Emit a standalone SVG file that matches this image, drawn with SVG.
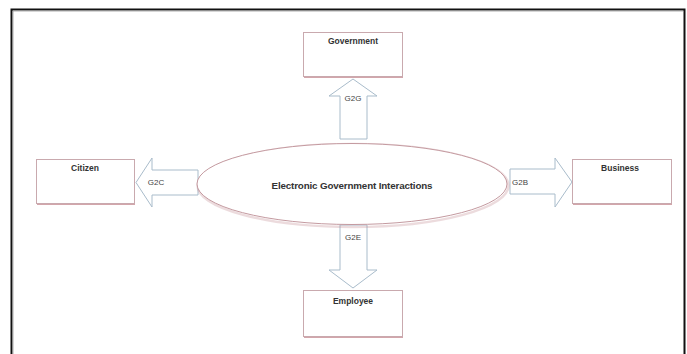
<svg xmlns="http://www.w3.org/2000/svg" width="687" height="354" viewBox="0 0 687 354">
<style>
.box{fill:#fff;stroke:#c9a9ae;stroke-width:1}
.shadow{fill:none;stroke:#c08088;stroke-width:2;opacity:0.7}
.arrow{fill:#fff;stroke:#a9bccb;stroke-width:1}
.lbl{font-family:"Liberation Sans",Arial,sans-serif;font-size:8.5px;font-weight:bold;fill:#333;text-anchor:middle}
.al{font-family:"Liberation Sans",Arial,sans-serif;font-size:8px;fill:#444;text-anchor:middle}
</style>
<rect x="0" y="0" width="687" height="354" fill="#fff"/>
<path d="M11.5 356 V9.5 H684.5 V356" fill="none" stroke="#111" stroke-width="2"/>
<path d="M13 356 V11 H683" fill="none" stroke="#999" stroke-width="0.8"/>
<g id="connectors">
<polygon class="arrow" points="340,139 340,96 329,96 353,79 377,96 367,96 367,139"/>
<polygon class="arrow" points="198,170 152,170 152,158 136,182.5 152,207 152,195 198,195"/>
<polygon class="arrow" points="510,169 555,169 555,158 572,182 555,207 555,194 510,194"/>
<polygon class="arrow" points="340,225 340,270 329,270 353,288 377,270 367,270 367,225"/>
<text class="al" x="353" y="101">G2G</text>
<text class="al" x="156" y="185">G2C</text>
<text class="al" x="520" y="185">G2B</text>
<text class="al" x="353" y="240">G2E</text>
</g>
<g id="center">
<ellipse cx="353" cy="185.5" rx="155.5" ry="41.5" fill="none" stroke="#c08890" stroke-width="2.5" opacity="0.3"/>
<ellipse cx="352" cy="184" rx="155" ry="40.5" fill="#fff" stroke="#c49aa0" stroke-width="1"/>
<text x="352" y="189" font-family="'Liberation Sans',Arial,sans-serif" font-size="9.8" fill="#333" text-anchor="middle" font-weight="bold" textLength="161">Electronic Government Interactions</text>
</g>
<g id="government">
<line class="shadow" x1="304" y1="77" x2="403" y2="77"/>
<rect class="box" x="303.5" y="32.5" width="99" height="44"/>
<text class="lbl" x="353" y="44">Government</text>
</g>
<g id="citizen">
<line class="shadow" x1="37" y1="204" x2="135" y2="204"/>
<rect class="box" x="36.5" y="159.5" width="98" height="44"/>
<text class="lbl" x="85" y="171">Citizen</text>
</g>
<g id="business">
<line class="shadow" x1="573" y1="204" x2="672" y2="204"/>
<rect class="box" x="572.5" y="159.5" width="99" height="44"/>
<text class="lbl" x="620" y="171">Business</text>
</g>
<g id="employee">
<line class="shadow" x1="304" y1="337" x2="403" y2="337"/>
<rect class="box" x="303.5" y="290.5" width="99" height="46"/>
<text class="lbl" x="353" y="304">Employee</text>
</g>
</svg>
